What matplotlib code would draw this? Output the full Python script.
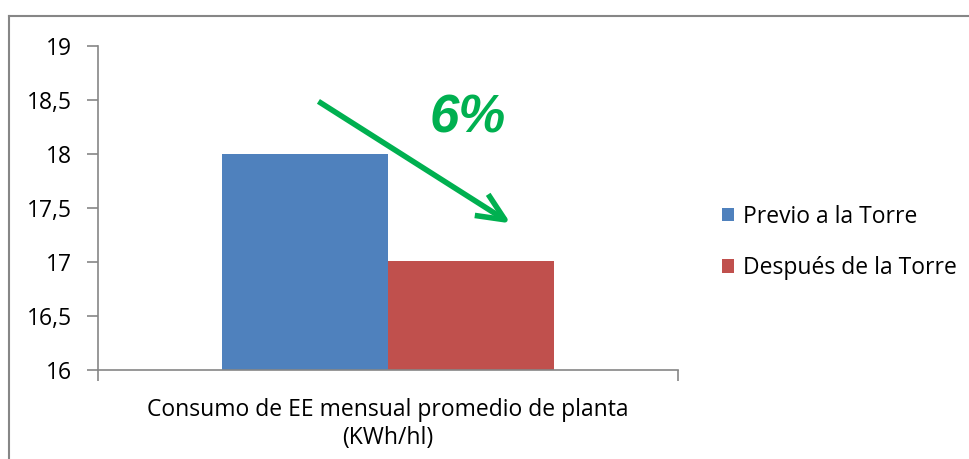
import matplotlib
matplotlib.use("Agg")
import matplotlib.pyplot as plt
from matplotlib.lines import Line2D
from matplotlib.ticker import FuncFormatter

# Data
category = "Consumo de EE mensual promedio de planta\n(KWh/hl)"
series = ["Previo a la Torre", "Después de la Torre"]
values = [18.0, 17.01]
colors = ["#4F81BD", "#C0504D"]
yticks = [16, 16.5, 17, 17.5, 18, 18.5, 19]
change_label = "6%"

plt.rcParams["font.family"] = ["Open Sans", "DejaVu Sans"]

fig = plt.figure(figsize=(9.70, 4.59), dpi=100)
ax = fig.add_axes([0.101, 0.194, 0.598, 0.706])

width = 0.286
offsets = [-width / 2, width / 2]
for name, v, c, off in zip(series, values, colors, offsets):
    ax.bar(off, v - 16, bottom=16, width=width, color=c, label=name)

ax.set_xlim(-0.5, 0.5)
ax.set_ylim(16, 19)
ax.set_yticks(yticks)
ax.yaxis.set_major_formatter(FuncFormatter(
    lambda v, p: ("%g" % v).replace(".", ",")))
ax.set_xticks([-0.5, 0.5])
ax.set_xticklabels(["", ""])
ax.set_xticks([0], minor=True)
ax.set_xticklabels([category], minor=True, linespacing=1.25)
ax.tick_params(axis="x", which="minor", length=0, pad=20, labelsize=16.5)
ax.tick_params(axis="x", which="major", length=8, color="#868686", width=1.2)
ax.tick_params(axis="y", length=8, color="#868686", width=1.2, pad=11,
               labelsize=16.5)

for s in ["top", "right"]:
    ax.spines[s].set_visible(False)
for s in ["left", "bottom"]:
    ax.spines[s].set_color("#868686")
    ax.spines[s].set_linewidth(1.2)

# arrow and percentage
ax.annotate("", xy=(0.2155, 17.343), xytext=(-0.124, 18.5),
            arrowprops=dict(arrowstyle="->,head_length=2.0,head_width=0.9",
                            color="#00B050", lw=4.0, joinstyle="round",
                            capstyle="butt"))
ax.text(0.138, 18.33, change_label, color="#00B050", fontsize=38,
        fontweight="bold", fontstyle="italic", ha="center", va="center",
        family=["Liberation Sans", "DejaVu Sans"])

leg = ax.legend(loc="center left", bbox_to_anchor=(1.076, 0.394), frameon=False,
                fontsize=16.5, handlelength=0.52, handleheight=0.52,
                handletextpad=0.4, labelspacing=1.2, borderpad=0,
                borderaxespad=0)

# outer chart border (cut at the right and bottom of the picture)
fig.add_artist(Line2D([9.5 / 970, 1.0], [1 - 15.5 / 459] * 2,
                      color="#868686", lw=1.5, transform=fig.transFigure))
fig.add_artist(Line2D([9.5 / 970] * 2, [0, 1 - 15.5 / 459],
                      color="#868686", lw=1.5, transform=fig.transFigure))

fig.savefig("out.png", dpi=100)
